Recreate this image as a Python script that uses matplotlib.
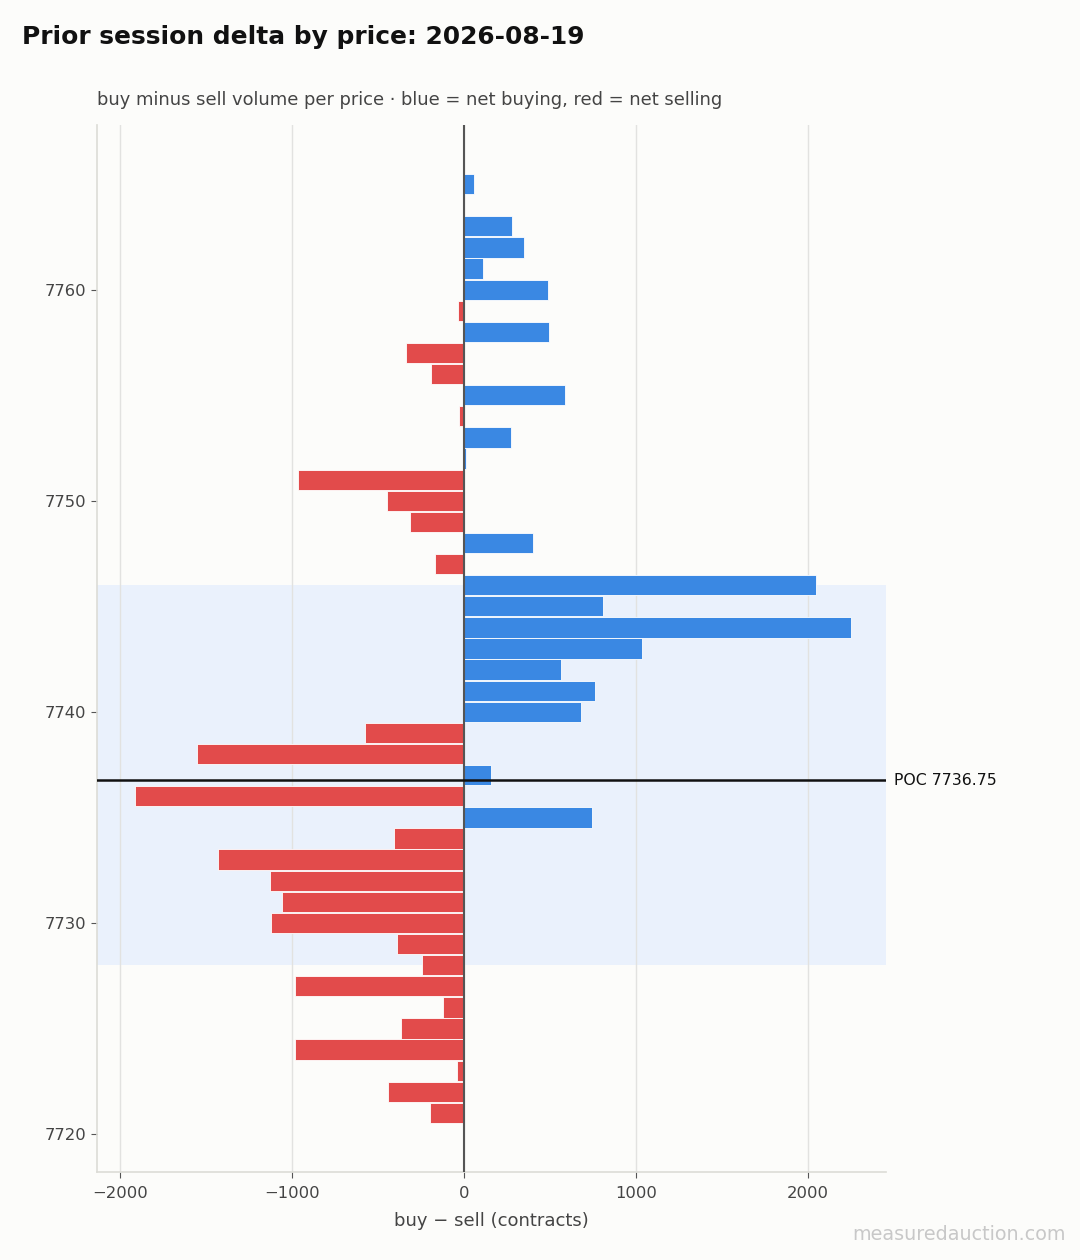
import numpy as np
import matplotlib.pyplot as plt

# price levels and net delta (buy - sell) per level
prices = [7765, 7763, 7762, 7761, 7760, 7759, 7758, 7757, 7756, 7755,
          7754, 7753, 7752, 7751, 7750, 7749, 7748, 7747, 7746, 7745,
          7744, 7743, 7742, 7741, 7740, 7739, 7738, 7737, 7736, 7735,
          7734, 7733, 7732, 7731, 7730, 7729, 7728, 7727, 7726, 7725,
          7724, 7723, 7722, 7721]
delta = [58, 277, 347, 109, 487, -38, 492, -339, -193, 584,
         -31, 275, 9, -966, -449, -316, 403, -170, 2043, 805,
         2252, 1037, 566, 764, 677, -576, -1550, 159, -1915, 744,
         -407, -1428, -1126, -1057, -1120, -390, -245, -982, -124, -367,
         -982, -43, -443, -199]

poc = 7736.75
va_low, va_high = 7728.0, 7746.0

BLUE = "#3a88e3"
RED = "#e24b4b"
BG = "#fcfcfa"

plt.rcParams["font.family"] = ["DejaVu Sans"]

fig = plt.figure(figsize=(10.8, 12.6), dpi=100, facecolor=BG)
ax = fig.add_axes([0.0898, 0.0698, 0.7306, 0.831], facecolor=BG)

colors = [BLUE if d >= 0 else RED for d in delta]
ax.axhspan(va_low, va_high, color="#eaf1fc", zorder=0, lw=0)
ax.barh(prices, delta, height=0.96, color=colors, edgecolor="white",
        linewidth=0.6, zorder=2)
ax.axvline(0, color="#555555", lw=1.5, zorder=3)
ax.axhline(poc, color="#111111", lw=1.8, zorder=4)
ax.text(1.01, poc, f"POC {poc:.2f}", transform=ax.get_yaxis_transform(),
        va="center", ha="left", fontsize=11.3, color="#111111")

ax.set_xlim(-2134, 2453)
ax.set_ylim(7718.2, 7767.8)
ax.set_xticks([-2000, -1000, 0, 1000, 2000])
ax.set_yticks([7720, 7730, 7740, 7750, 7760])
ax.xaxis.grid(True, color="#e2e2e0", lw=1.0, zorder=1)
ax.set_axisbelow(True)

for side in ["top", "right"]:
    ax.spines[side].set_visible(False)
for side in ["left", "bottom"]:
    ax.spines[side].set_color("#dcdcd6")
    ax.spines[side].set_linewidth(1.2)
ax.tick_params(colors="#444444", labelsize=11.8, length=4, color="#555555")
ax.tick_params(axis="x", pad=6)
ax.set_xlabel("buy \u2212 sell (contracts)", fontsize=13, color="#444444", labelpad=8)

fig.text(0.0204, 0.971, "Prior session delta by price: 2026-08-19",
         fontsize=17.9, fontweight="bold", color="#111111", va="center")
fig.text(0.0898, 0.921, "buy minus sell volume per price \u00b7 blue = net buying, red = net selling",
         fontsize=12.9, color="#444444", va="center")
fig.text(0.987, 0.02, "measuredauction.com", fontsize=13.8, color="#c8c8c8",
         ha="right", va="center")

fig.savefig("out.png", dpi=100, facecolor=BG)
